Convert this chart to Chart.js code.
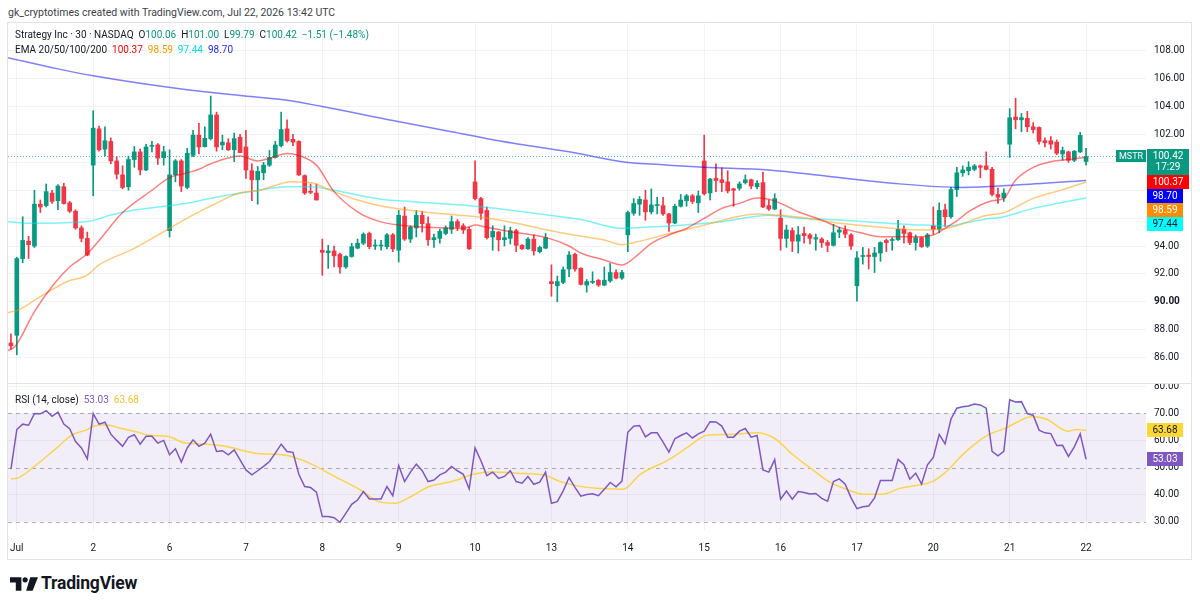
<!DOCTYPE html>
<html lang="en">
<head>
<meta charset="UTF-8">
<title>Strategy Inc (MSTR) 30m</title>
<script src="https://cdn.jsdelivr.net/npm/chart.js"></script>
<style>
  body { margin: 0; background: #fff; font-family: Roboto, "Liberation Sans", sans-serif; color: #131722; }
  #page { position: relative; width: 1200px; height: 609px; overflow: hidden; }
  #frame { position: absolute; left: 7px; top: 22px; width: 1185px; height: 538px; border: 1px solid #e0e3eb; box-sizing: border-box; }
  #sep { position: absolute; left: 7px; top: 383px; width: 1185px; height: 1px; background: #e0e3eb; }
  canvas { position: absolute; }
  .lbl { position: absolute; white-space: pre; font-size: 10px; line-height: 13px; }
  .up { color: #089981; }
</style>
</head>
<body>
<div id="page">
  <div class="lbl" style="left:8px; top:6px; color:#3c3f48; font-size:10.5px">gk_cryptotimes created with TradingView.com, Jul 22, 2026 13:42 UTC</div>
  <div id="frame"></div>
  <canvas id="priceChart" style="left:8px; top:23px" width="1183" height="360"></canvas>
  <div id="sep"></div>
  <canvas id="rsiChart" style="left:8px; top:384px" width="1183" height="174"></canvas>

  <div class="lbl" style="left:15px; top:28px">Strategy Inc · 30 · NASDAQ  O<span class="up">100.06</span>  H<span class="up">101.00</span>  L<span class="up">99.79</span>  C<span class="up">100.42</span>  <span class="up">−1.51 (−1.48%)</span></div>
  <div class="lbl" style="left:15px; top:43px">EMA 20/50/100/200  <span style="color:#ff0000">100.37</span>  <span style="color:#ff9800">98.59</span>  <span style="color:#00e0ea">97.44</span>  <span style="color:#2a2aff">98.70</span></div>
  <div class="lbl" style="left:15px; top:393px">RSI (14, close)  <span style="color:#7e57c2">53.03</span>  <span style="color:#f2c230">63.68</span></div>

  <svg style="position:absolute; left:10px; top:577px" width="28" height="14" viewBox="0 0 27 13">
    <path d="M0 0H11V13H5.6V5H0Z" fill="#131722"/>
    <circle cx="14.6" cy="2.5" r="2.5" fill="#131722"/>
    <path d="M19.5 0H27L21.8 13H15.6Z" fill="#131722"/>
  </svg>
  <div class="lbl" style="left:41px; top:573px; font-size:17.5px; font-weight:700; line-height:20px; letter-spacing:-0.2px">TradingView</div>
</div>

<script>
  // ---- data (30 min bars, last bar of Jun 30 through first bar of Jul 22) ----
  const dayLabels = ['Jul', '2', '6', '7', '8', '9', '10', '13', '14', '15', '16', '17', '20', '21', '22'];
  const dayStarts = [1, 14, 27, 40, 53, 66, 79, 92, 105, 118, 131, 144, 157, 170, 183];

  const opens = [
    87.05,
    87.6, 93.1, 94.35, 94.0, 97.0, 96.9, 97.8, 97.25, 98.25, 97.1, 96.5, 95.3, 94.55,
    99.8, 102.4, 100.95, 101.5, 100.1, 99.1, 98.25, 100.2, 100.75, 99.45, 101.15, 101.25, 100.33,
    95.1, 99.1, 100.1, 98.2, 100.5, 101.95, 101.12, 101.7, 103.4, 101.25, 101.4, 100.9, 101.8,
    101.1, 99.4, 98.75, 99.25, 99.8, 100.35, 101.2, 102.4, 101.65, 101.5, 99.05, 97.9, 97.8,
    93.7, 93.52, 93.65, 93.4, 92.5, 93.25, 93.85, 94.2, 94.9, 94.0, 94.0, 93.95, 94.8,
    93.7, 96.15, 94.5, 95.3, 96.2, 95.6, 94.45, 94.55, 94.9, 95.2, 95.75, 95.45, 95.2,
    98.6, 97.4, 96.55, 94.65, 95.0, 94.45, 94.55, 95.1, 94.05, 93.8, 94.5, 93.6, 93.85,
    91.45, 91.15, 91.4, 92.35, 93.4, 92.4, 91.2, 91.4, 91.55, 91.2, 91.5, 92.1, 91.7,
    94.8, 96.35, 97.0, 97.3, 96.45, 96.9, 96.9, 96.3, 95.65, 96.85, 97.25, 97.6, 97.1,
    100.1, 97.8, 98.85, 98.75, 98.6, 98.1, 98.15, 98.55, 98.75, 98.25, 98.55, 96.9, 96.65,
    96.0, 94.55, 95.1, 94.35, 94.9, 94.8, 94.5, 94.5, 94.25, 94.05, 95.0, 95.15, 94.8,
    91.15, 93.25, 93.35, 93.25, 93.5, 94.4, 94.4, 94.45, 95.2, 94.95, 94.25, 94.6, 94.0,
    95.45, 95.2, 96.6, 96.1, 98.05, 99.25, 99.4, 99.5, 99.75, 99.75, 99.5, 97.7, 97.45,
    101.3, 103.25, 103.05, 103.15, 102.55, 102.5, 101.55, 101.55, 101.45, 100.6, 100.75, 100.15, 100.75,
    100.06
  ];
  const highs = [
    87.7,
    93.2, 96.1, 94.7, 98.0, 97.3, 98.45, 98.0, 98.4, 98.5, 97.2, 96.6, 95.45, 95.0,
    103.7, 102.6, 102.55, 101.75, 100.4, 99.75, 100.45, 101.15, 100.95, 101.3, 101.5, 101.35, 101.15,
    100.9, 100.2, 100.2, 101.0, 102.3, 102.8, 102.55, 104.75, 103.6, 101.95, 101.7, 102.1, 102.0,
    102.3, 99.9, 99.7, 100.0, 100.85, 101.5, 103.6, 103.05, 102.0, 101.55, 99.1, 98.45, 98.45,
    94.5, 94.05, 94.0, 93.5, 93.3, 94.2, 94.5, 94.95, 95.0, 94.45, 94.4, 94.9, 94.9,
    96.55, 96.8, 95.45, 96.55, 96.5, 96.1, 94.85, 95.2, 95.45, 96.15, 95.9, 95.6, 95.35,
    100.1, 97.5, 96.8, 95.45, 95.05, 95.45, 95.35, 95.2, 94.1, 94.6, 94.8, 94.0, 94.9,
    92.65, 91.85, 92.5, 93.6, 93.5, 92.45, 91.6, 92.15, 91.6, 92.5, 92.75, 92.3, 92.25,
    96.5, 97.4, 97.55, 98.0, 98.1, 97.5, 97.5, 96.35, 97.0, 97.7, 97.7, 97.7, 97.95,
    101.95, 98.85, 99.9, 99.6, 99.4, 98.15, 98.6, 99.1, 98.8, 98.7, 99.3, 97.3, 97.75,
    96.6, 95.5, 95.3, 95.4, 95.35, 94.9, 94.85, 94.6, 94.4, 95.55, 95.35, 95.45, 94.9,
    93.6, 93.9, 93.8, 93.9, 94.3, 94.5, 94.6, 95.85, 95.45, 95.0, 94.8, 94.65, 94.9,
    96.8, 97.1, 97.0, 98.2, 99.65, 99.75, 100.05, 99.85, 99.8, 100.75, 99.65, 98.15, 98.1,
    103.85, 104.6, 103.5, 103.65, 102.85, 102.55, 101.75, 101.85, 101.6, 101.1, 100.8, 100.85, 102.15,
    101.0
  ];
  const lows = [
    86.6,
    86.2, 92.8, 93.1, 93.9, 96.4, 96.8, 97.05, 96.6, 97.0, 96.4, 95.2, 94.3, 93.3,
    97.6, 100.8, 100.45, 99.9, 98.8, 98.1, 98.0, 99.65, 99.1, 99.4, 100.75, 99.85, 99.8,
    94.65, 98.6, 97.9, 98.1, 100.4, 100.6, 101.1, 101.6, 100.8, 100.9, 100.85, 100.05, 100.7,
    98.85, 97.25, 97.0, 98.75, 99.7, 100.3, 101.1, 101.45, 101.2, 99.05, 97.7, 97.75, 97.3,
    91.9, 92.4, 92.5, 92.05, 92.4, 93.2, 93.8, 94.1, 93.8, 93.75, 93.7, 93.8, 93.6,
    92.85, 94.4, 94.25, 94.65, 95.0, 94.05, 93.9, 94.2, 94.8, 94.9, 95.1, 94.9, 93.75,
    97.3, 95.9, 94.5, 93.7, 93.65, 94.0, 94.15, 93.6, 93.75, 93.75, 93.35, 93.5, 93.8,
    90.4, 90.0, 91.3, 91.8, 92.2, 91.2, 90.7, 91.3, 91.1, 91.15, 91.4, 91.65, 91.6,
    93.6, 96.2, 96.2, 95.85, 96.3, 96.3, 96.2, 95.05, 95.6, 96.8, 96.85, 97.05, 96.4,
    97.65, 97.3, 97.9, 97.9, 97.8, 96.85, 98.0, 98.45, 98.1, 98.1, 96.75, 96.55, 96.6,
    93.7, 93.9, 93.6, 93.5, 94.2, 94.15, 93.7, 93.9, 93.6, 94.0, 94.6, 94.6, 93.75,
    90.05, 92.7, 92.35, 92.1, 92.9, 93.6, 93.7, 94.4, 94.2, 94.1, 93.7, 93.9, 93.9,
    94.85, 94.95, 95.4, 96.0, 97.55, 99.0, 99.1, 99.4, 98.9, 99.45, 97.6, 97.05, 97.2,
    100.35, 102.4, 102.2, 102.2, 102.1, 101.3, 101.1, 100.95, 100.55, 100.15, 100.0, 100.05, 100.7,
    99.79
  ];
  const closes = [
    86.85,
    93.1, 94.4, 94.1, 97.0, 96.8, 97.9, 97.2, 98.3, 97.05, 96.5, 95.3, 94.55, 93.35,
    102.45, 100.9, 101.55, 100.1, 99.15, 98.2, 100.2, 100.75, 99.45, 101.1, 101.2, 100.3, 100.76,
    99.1, 100.1, 98.3, 100.65, 101.95, 101.1, 101.72, 103.4, 101.1, 101.45, 100.9, 101.7, 100.7,
    99.45, 98.75, 99.35, 99.8, 100.35, 101.25, 102.35, 101.55, 101.45, 99.1, 97.8, 97.85, 97.3,
    93.55, 93.65, 93.3, 92.5, 93.25, 93.95, 94.2, 94.85, 93.95, 94.05, 94.05, 94.8, 93.8,
    96.2, 94.5, 95.35, 96.2, 95.6, 94.45, 94.6, 95.05, 95.3, 95.75, 95.35, 95.15, 93.8,
    97.4, 96.35, 94.6, 95.05, 94.45, 94.6, 95.1, 94.05, 93.8, 94.5, 93.65, 93.9, 94.6,
    91.3, 91.45, 92.3, 93.35, 92.35, 91.25, 91.45, 91.45, 91.2, 91.55, 92.1, 91.7, 92.1,
    96.4, 97.05, 97.35, 96.45, 96.95, 96.95, 96.3, 95.65, 96.85, 97.3, 97.6, 97.2, 97.6,
    97.75, 98.8, 98.7, 98.55, 97.95, 98.0, 98.45, 98.75, 98.3, 98.5, 96.8, 96.65, 97.4,
    94.55, 95.15, 94.35, 94.8, 94.75, 94.55, 94.6, 94.25, 94.05, 94.95, 95.15, 94.85, 94.0,
    93.15, 93.3, 93.25, 93.5, 94.25, 94.25, 94.45, 95.2, 94.9, 94.25, 94.6, 93.95, 94.8,
    95.2, 96.55, 96.1, 98.05, 99.25, 99.45, 99.65, 99.75, 99.65, 99.5, 97.7, 97.5, 97.8,
    103.2, 103.05, 103.2, 102.55, 102.35, 101.5, 101.4, 101.3, 100.65, 100.85, 100.15, 100.8, 101.93,
    100.42
  ];

  // EMA lines as [bar index, value]
  const ema20 = [[-0.5, 86.5], [0.7, 86.8], [4, 89.3], [7, 91.1], [10, 92.5], [13, 93.45], [15, 94.4], [19, 96.4],
    [24, 98.0], [27, 98.9], [30, 99.25], [32, 99.5], [34, 99.9], [39, 100.45], [42, 100.1], [44, 100.28], [47, 100.64],
    [49, 100.5], [52, 99.8], [55, 97.9], [59, 96.45], [62, 95.86], [66, 95.5], [71, 95.35], [77, 95.27], [79, 95.5],
    [81, 95.34], [85, 95.03], [91, 94.62], [95, 94.0], [97, 93.5], [101, 93.0], [104, 92.64], [107, 93.48], [109, 94.19],
    [112, 94.79], [115, 95.27], [118, 95.98], [121, 96.7], [124, 97.06], [127, 97.45], [129, 97.35], [131, 97.06],
    [134, 96.46], [138, 95.86], [141, 95.34], [145, 94.91], [148, 94.67], [155, 94.67], [157, 94.79], [159, 95.27],
    [161, 95.8], [163, 96.46], [167, 97.25], [169, 97.42], [171, 98.73], [174, 99.64], [177, 100.04], [180, 100.21], [183, 100.37]];
  const ema50 = [[-0.5, 89.22], [1.5, 89.46], [5, 90.37], [9.5, 91.44], [13, 91.92], [15, 92.64], [21, 93.83], [26.5, 95.15],
    [29.4, 95.86], [32, 96.45], [34, 96.87], [39, 97.82], [42, 97.96], [44.7, 98.3], [47.5, 98.61], [51, 98.56], [54.3, 98.01],
    [59, 97.3], [63, 96.87], [68.5, 96.53], [74, 96.29], [80, 96.06], [85.6, 95.67], [91.3, 95.15], [95, 94.85], [101, 94.43],
    [104, 94.1], [106.6, 94.31], [112.3, 94.91], [118, 95.5], [123.6, 96.1], [127, 96.29], [130, 96.22], [134.4, 96.06],
    [141.2, 95.63], [148, 95.34], [155, 95.15], [158.3, 95.2], [161, 95.45], [165.6, 96.15], [169, 96.39], [174, 97.42],
    [178.7, 98.01], [183, 98.59]];
  const ema100 = [[-0.5, 95.74], [4, 95.63], [13, 95.75], [17, 96.22], [21, 96.58], [26.5, 96.87], [30.5, 97.1], [32, 97.25],
    [39, 97.78], [47.5, 98.25], [51, 98.25], [55.5, 97.96], [63, 97.35], [68.5, 97.18], [80, 96.82], [91.3, 96.22], [97, 95.9],
    [104, 95.27], [106, 95.3], [112, 95.43], [121, 95.74], [129, 96.2], [134, 96.0], [141, 95.86], [148, 95.67], [155, 95.5],
    [160, 95.45], [162, 95.63], [165.6, 95.91], [169, 96.1], [174, 96.7], [178.7, 97.1], [183, 97.44]];
  const ema200 = [[-1, 107.55], [8, 106.7], [14, 106.2], [30, 105.2], [39, 104.8], [47, 104.45], [53, 104.0], [65, 103.0],
    [75, 102.2], [83, 101.55], [97, 100.6], [104, 100.05], [112, 99.8], [118, 99.65], [129, 99.45], [139, 99.0],
    [150, 98.5], [162, 98.2], [171, 98.37], [183, 98.7]];

  // RSI(14) per bar, and its moving average read as [bar index, value]
  const rsi = [
    49.4,
    64.0, 66.0, 65.6, 69.9, 69.8, 71.0, 68.9, 70.4, 66.0, 64.3, 59.6, 57.2, 53.2,
    69.9, 66.0, 66.7, 62.3, 60.0, 57.8, 61.1, 62.1, 58.6, 61.5, 61.5, 59.0, 60.0,
    54.7, 56.9, 52.0, 57.2, 60.2, 57.8, 59.0, 62.3, 55.9, 56.2, 54.7, 56.5, 52.8,
    49.1, 47.3, 48.8, 50.4, 52.2, 55.3, 58.6, 55.9, 55.6, 47.5, 43.0, 42.6, 40.9,
    31.9, 31.9, 31.5, 29.8, 33.1, 36.4, 38.0, 41.1, 38.4, 38.4, 38.4, 43.0, 39.6,
    50.7, 44.8, 48.3, 51.2, 48.8, 44.8, 45.4, 47.3, 48.3, 50.4, 48.8, 47.5, 42.1,
    57.2, 52.5, 47.0, 48.3, 46.0, 46.7, 48.8, 44.8, 44.2, 46.7, 43.8, 44.6, 48.3,
    36.8, 37.4, 41.4, 46.3, 42.7, 39.4, 40.0, 40.3, 39.6, 42.0, 44.5, 42.9, 45.0,
    63.0, 65.2, 65.5, 61.3, 62.8, 62.8, 59.4, 55.7, 60.6, 61.8, 62.8, 60.9, 62.4,
    63.4, 66.9, 66.8, 65.3, 61.2, 61.2, 63.4, 64.4, 61.2, 61.8, 49.1, 48.3, 52.9,
    38.3, 41.3, 38.3, 41.1, 40.8, 40.2, 40.4, 38.6, 37.6, 44.8, 45.8, 43.8, 38.8,
    34.8, 35.5, 35.8, 38.8, 45.2, 45.2, 45.2, 53.0, 51.0, 45.7, 47.9, 43.9, 51.0,
    53.7, 62.2, 58.7, 67.8, 71.9, 72.4, 72.7, 73.4, 73.1, 71.9, 56.0, 54.3, 56.0,
    75.0, 74.2, 74.3, 69.9, 69.3, 63.8, 62.8, 62.5, 58.1, 58.2, 54.1, 57.6, 62.4,
    53.03
  ];
  const rsiMa = [[0, 45.8], [1, 46.0], [4, 50.4], [7.4, 56.5], [10.5, 62.1], [13, 64.0], [14, 65.2], [16, 65.8], [18.5, 64.6],
    [21.5, 63.1], [23.5, 61.9], [26.6, 61.5], [29.7, 59.0], [33.4, 58.6], [36.5, 57.8], [41.5, 55.3], [47, 54.4], [50.8, 51.6],
    [55.1, 46.7], [59.5, 41.7], [62.6, 37.4], [65.4, 36.8], [68.1, 39.3], [71.2, 43.0], [75, 44.8], [78.7, 47.5], [81.8, 48.3],
    [86.1, 47.9], [91.1, 47.0], [93.5, 44.8], [99.6, 42.3], [104.3, 42.0], [107, 47.3], [112, 52.9], [115.4, 57.8],
    [118.5, 61.9], [122.1, 62.2], [127, 62.8], [130, 60.7], [133.1, 54.7], [136.1, 49.8], [139.2, 44.8], [142.2, 42.0],
    [145.2, 40.1], [148.3, 40.1], [151.3, 42.3], [154.4, 43.5], [156.8, 44.8], [159.2, 48.5], [161.7, 54.1], [164.1, 58.7],
    [166.5, 62.2], [169.5, 64.7], [171.4, 66.9], [173.8, 68.8], [176.3, 67.8], [179.9, 63.4], [181.4, 64.0], [183, 63.68]];

  const priceTicks = [86, 88, 90, 92, 94, 96, 98, 100, 102, 104, 106, 108];
  const rsiTicks = [30, 40, 50, 60, 70, 80];
  const rsiLevels = [70, 50, 30];
  const barCountdown = '17:29';

  // ---- styling ----
  Chart.defaults.font.family = 'Roboto, "Liberation Sans", sans-serif';
  Chart.defaults.font.size = 10;
  Chart.defaults.color = '#131722';

  const GRID = 'rgba(42, 46, 57, 0.06)';
  const UP = '#089981', DOWN = '#f23645';
  const X_MIN = -0.5, X_MAX = 193.2;
  const last = closes.length - 1;
  const bars = closes.map((c, i) => i);
  const candleColor = ctx => closes[ctx.dataIndex] >= opens[ctx.dataIndex] ? UP : DOWN;
  const pts = arr => arr.map(p => ({ x: p[0], y: p[1] }));

  function lineSet(label, arr, color, order) {
    return { type: 'line', label, data: pts(arr), borderColor: color, borderWidth: 1.5, pointRadius: 0,
      cubicInterpolationMode: 'monotone', order };
  }

  function dayAxis(showLabels) {
    return {
      type: 'linear', min: X_MIN, max: X_MAX, offset: false,
      afterBuildTicks: s => { s.ticks = dayStarts.map(v => ({ value: v })); },
      afterFit: s => { s.height = showLabels ? 28 : 0; s.paddingLeft = 0; s.paddingRight = 0; },
      ticks: { display: showLabels, autoSkip: false, maxRotation: 0, padding: 12,
        callback: (v, i) => dayLabels[i] },
      grid: { color: GRID, drawTicks: false, offset: false },
      border: { display: false }
    };
  }

  // small coloured tags on the price scale, pushed down so they never overlap
  function drawTags(chart, tags) {
    const { ctx, chartArea, scales: { y } } = chart;
    const x = chartArea.right + 1;
    ctx.save();
    ctx.font = '10px Roboto, sans-serif';
    ctx.textBaseline = 'middle';
    ctx.textAlign = 'center';
    let bottom = -Infinity;
    tags.map(t => Object.assign({ py: y.getPixelForValue(t.value) }, t))
      .sort((a, b) => a.py - b.py)
      .forEach(t => {
        const lines = t.lines || [t.value.toFixed(2)];
        const h = lines.length > 1 ? 26 : 14;
        const w = Math.round(ctx.measureText(lines[0]).width) + 11;
        const top = Math.max(Math.round(t.py) - 7, bottom);
        ctx.fillStyle = t.bg;
        ctx.fillRect(x, top, w, h);
        ctx.fillStyle = t.fg;
        lines.forEach((s, k) => ctx.fillText(s, x + w / 2, top + 7.5 + k * 11));
        bottom = top + h;
      });
    ctx.restore();
  }

  const pricePlugin = {
    id: 'priceExtras',
    afterDatasetsDraw(chart) {
      const { ctx, chartArea: a, scales: { y } } = chart;
      const py = Math.round(y.getPixelForValue(closes[last])) + 0.5;
      ctx.save();
      ctx.strokeStyle = 'rgba(8, 153, 129, 0.7)';
      ctx.setLineDash([1, 2]);
      ctx.beginPath();
      ctx.moveTo(a.left, py);
      ctx.lineTo(a.right, py);
      ctx.stroke();
      // symbol tag
      ctx.setLineDash([]);
      ctx.fillStyle = UP;
      ctx.fillRect(a.right - 30, py - 6.5, 30, 12);
      ctx.fillStyle = '#fff';
      ctx.font = '9px Roboto, sans-serif';
      ctx.textAlign = 'center';
      ctx.textBaseline = 'middle';
      ctx.fillText('MSTR', a.right - 15, py);
      ctx.restore();
    },
    afterDraw(chart) {
      drawTags(chart, [
        { value: closes[last], bg: UP, fg: '#fff', lines: [closes[last].toFixed(2), barCountdown] },
        { value: ema20[ema20.length - 1][1], bg: '#ff0000', fg: '#fff' },
        { value: ema200[ema200.length - 1][1], bg: '#0000ff', fg: '#fff' },
        { value: ema50[ema50.length - 1][1], bg: '#ff8c00', fg: '#fff' },
        { value: ema100[ema100.length - 1][1], bg: '#00ffff', fg: '#131722' }
      ]);
    }
  };

  const rsiPlugin = {
    id: 'rsiExtras',
    beforeDatasetsDraw(chart) {
      const { ctx, chartArea: a, scales: { y } } = chart;
      const top = y.getPixelForValue(rsiLevels[0]);
      const bot = y.getPixelForValue(rsiLevels[2]);
      ctx.save();
      ctx.fillStyle = 'rgba(126, 87, 194, 0.1)';
      ctx.fillRect(a.left, top, a.right - a.left, bot - top);
      ctx.strokeStyle = 'rgba(120, 123, 134, 0.6)';
      ctx.lineWidth = 1;
      ctx.setLineDash([4, 4]);
      rsiLevels.forEach(v => {
        const py = Math.round(y.getPixelForValue(v)) + 0.5;
        ctx.beginPath();
        ctx.moveTo(a.left, py);
        ctx.lineTo(a.right, py);
        ctx.stroke();
      });
      ctx.restore();
    },
    afterDraw(chart) {
      drawTags(chart, [
        { value: rsiMa[rsiMa.length - 1][1], bg: '#fdd835', fg: '#131722' },
        { value: rsi[last], bg: '#7e57c2', fg: '#fff' }
      ]);
    }
  };

  // ---- price pane: candles as floating bars + EMA lines ----
  new Chart(document.getElementById('priceChart'), {
    type: 'bar',
    data: {
      datasets: [
        lineSet('EMA 20', ema20, 'rgba(255, 0, 0, 0.5)', 1),
        lineSet('EMA 50', ema50, 'rgba(255, 152, 0, 0.5)', 1),
        lineSet('EMA 100', ema100, 'rgba(0, 229, 240, 0.5)', 1),
        lineSet('EMA 200', ema200, 'rgba(0, 0, 255, 0.5)', 1),
        {
          label: 'body', data: bars.map(i => ({ x: i, y: [opens[i], closes[i]] })),
          backgroundColor: candleColor, borderWidth: 0, barThickness: 4, minBarLength: 1, grouped: false, order: 3
        },
        {
          label: 'wick', data: bars.map(i => ({ x: i, y: [lows[i], highs[i]] })),
          backgroundColor: candleColor, borderWidth: 0, barThickness: 1, grouped: false, order: 4
        }
      ]
    },
    options: {
      animation: false,
      responsive: false,
      devicePixelRatio: 1,
      plugins: { legend: { display: false }, tooltip: { enabled: false } },
      scales: {
        x: dayAxis(false),
        y: {
          position: 'right', min: 84.18, max: 109.99,
          afterBuildTicks: s => { s.ticks = priceTicks.map(v => ({ value: v })); },
          afterFit: s => { s.width = 45; s.paddingTop = 0; s.paddingBottom = 0; },
          ticks: {
            padding: 8,
            callback: v => v.toFixed(2),
            font: ctx => ({ size: 10, weight: ctx.tick && ctx.tick.value === 90 ? 'bold' : 'normal' })
          },
          grid: { color: GRID, drawTicks: false },
          border: { display: false }
        }
      }
    },
    plugins: [pricePlugin]
  });

  // ---- RSI pane ----
  new Chart(document.getElementById('rsiChart'), {
    type: 'line',
    data: {
      datasets: [
        {
          label: 'RSI', data: rsi.map((v, i) => ({ x: i, y: v })), borderColor: '#7e57c2', borderWidth: 1.5,
          pointRadius: 0, fill: { target: { value: 70 }, above: 'rgba(8, 153, 129, 0.08)', below: 'transparent' }
        },
        lineSet('RSI MA', rsiMa, '#fcd34d', 0)
      ]
    },
    options: {
      animation: false,
      responsive: false,
      devicePixelRatio: 1,
      plugins: { legend: { display: false }, tooltip: { enabled: false } },
      scales: {
        x: dayAxis(true),
        y: {
          position: 'right', min: 26.94, max: 80.81,
          afterBuildTicks: s => { s.ticks = rsiTicks.map(v => ({ value: v })); },
          afterFit: s => { s.width = 45; s.paddingTop = 0; s.paddingBottom = 0; },
          ticks: { padding: 8, callback: v => v.toFixed(2) },
          grid: { color: ctx => rsiLevels.includes(ctx.tick.value) ? 'transparent' : GRID, drawTicks: false },
          border: { display: false }
        }
      }
    },
    plugins: [rsiPlugin]
  });
</script>
</body>
</html>
